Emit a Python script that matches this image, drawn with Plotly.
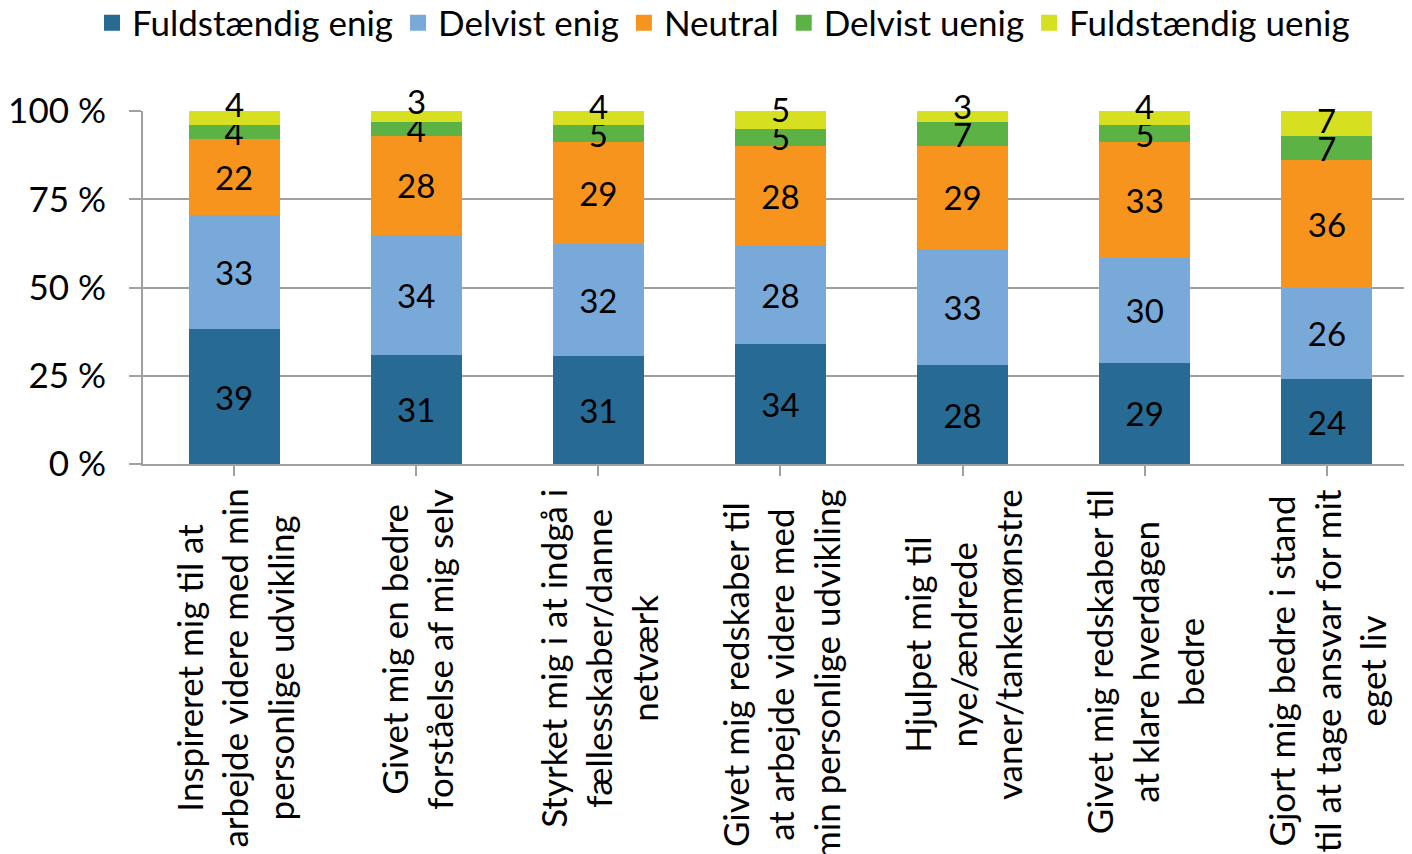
import plotly.graph_objects as go

categories = [
    "Inspireret mig til at<br>arbejde videre med min<br>personlige udvikling",
    "Givet mig en bedre<br>forståelse af mig selv",
    "Styrket mig i at indgå i<br>fællesskaber/danne<br>netværk",
    "Givet mig redskaber til<br>at arbejde videre med<br>min personlige udvikling",
    "Hjulpet mig til<br>nye/ændrede<br>vaner/tankemønstre",
    "Givet mig redskaber til<br>at klare hverdagen<br>bedre",
    "Gjort mig bedre i stand<br>til at tage ansvar for mit<br>eget liv",
]
series_names = ["Fuldstændig enig", "Delvist enig", "Neutral", "Delvist uenig", "Fuldstændig uenig"]
fuldstaendig_enig = [39, 31, 31, 34, 28, 29, 24]
delvist_enig = [33, 34, 32, 28, 33, 30, 26]
neutral = [22, 28, 29, 28, 29, 33, 36]
delvist_uenig = [4, 4, 5, 5, 7, 5, 7]
fuldstaendig_uenig = [4, 3, 4, 5, 3, 4, 7]
y_tick_values = [0, 25, 50, 75, 100]
y_tick_labels = ["0 %", "25 %", "50 %", "75 %", "100 %"]

series_values = [fuldstaendig_enig, delvist_enig, neutral, delvist_uenig, fuldstaendig_uenig]
colors = ["#276A93", "#78A9D8", "#F7941E", "#5DB246", "#D6E021"]

FONT = "Lato"
FS = 35
FS_DATA = 33
x_idx = list(range(len(categories)))

# page body has an 8px margin; figure is sized/offset to compensate
W, H = 1404, 846
OFF = 8
plot_left, plot_top, plot_bottom, plot_right = 137, 111, 464, 1412
ml = plot_left - OFF
mt = plot_top - OFF
mb = H - (plot_bottom - OFF)
mr = W - (plot_right - OFF)
plot_h = plot_bottom - plot_top
cat_px = 183.0
span = (W - ml - mr) / cat_px

fig = go.Figure()
n_series = len(series_values)
for k, (name, vals, col) in enumerate(zip(series_names, series_values, colors)):
    top = (k == n_series - 1)
    fig.add_trace(go.Bar(
        x=x_idx, y=vals, name=name, marker=dict(color=col, line=dict(width=0)),
        text=None if top else [str(v) for v in vals],
        textposition="inside", insidetextanchor="middle", textangle=0,
        textfont=dict(family=FONT, size=FS_DATA, color="black"), constraintext="none",
        showlegend=False, hoverinfo="skip", cliponaxis=False,
    ))

# top-series labels: centred in segment, nudged up to avoid overlapping the label below
min_sep = 28
for i in x_idx:
    tot = sum(s[i] for s in series_values)
    cum_below = sum(s[i] for s in series_values[:-1])
    top_c = (cum_below + series_values[-1][i] / 2) / tot * 100
    prev_c = (cum_below - series_values[-2][i] / 2) / tot * 100
    dist_px = (top_c - prev_c) / 100 * plot_h
    shift = max(0, min_sep - dist_px)
    fig.add_annotation(
        x=i, y=top_c, xref="x", yref="y", text=str(series_values[-1][i]), showarrow=False,
        xanchor="center", yanchor="middle", yshift=shift,
        font=dict(family=FONT, size=FS_DATA, color="black"),
    )

# legend entries
for name, col in zip(series_names, colors):
    fig.add_trace(go.Scatter(
        x=[None], y=[None], mode="markers", name=name,
        marker=dict(symbol="square", size=16, color=col), showlegend=True,
    ))

# category labels as rotated annotations
for i, lab in enumerate(categories):
    fig.add_annotation(
        x=i, y=0, xref="x", yref="paper", text=lab, showarrow=False,
        textangle=-90, align="center", xanchor="center", yanchor="top", yshift=-23,
        font=dict(family=FONT, size=FS, color="black"),
    )

fig.update_layout(
    width=W, height=H,
    margin=dict(l=ml, r=mr, t=mt, b=mb, pad=0),
    barmode="stack", barnorm="percent", bargap=0.5,
    plot_bgcolor="white", paper_bgcolor="white",
    font=dict(family=FONT, size=FS, color="black"),
    uniformtext=dict(minsize=FS_DATA, mode="show"),
    legend=dict(orientation="h", xref="container", yref="container", x=(84 / W), y=1 - 15 / H,
                xanchor="left", yanchor="middle", font=dict(family=FONT, size=FS),
                itemwidth=30, traceorder="normal", bgcolor="rgba(0,0,0,0)"),
    xaxis=dict(range=[-0.5, -0.5 + span], showticklabels=False, tickmode="array",
               tickvals=x_idx, tickson="boundaries", ticks="outside", ticklen=10,
               tickcolor="#A0A0A0", tickwidth=2, showline=True, linecolor="#A0A0A0", linewidth=2,
               showgrid=False, zeroline=False, fixedrange=True),
    yaxis=dict(range=[0, 100], tickmode="array", tickvals=y_tick_values, ticktext=y_tick_labels,
               ticks="outside", ticklen=12, tickcolor="#A0A0A0", tickwidth=2,
               showline=True, linecolor="#A0A0A0", linewidth=2,
               showgrid=True, gridcolor="#A0A0A0", gridwidth=2, zeroline=False,
               tickfont=dict(family=FONT, size=FS), ticklabelstandoff=16),
)
fig.write_html("out.html")
